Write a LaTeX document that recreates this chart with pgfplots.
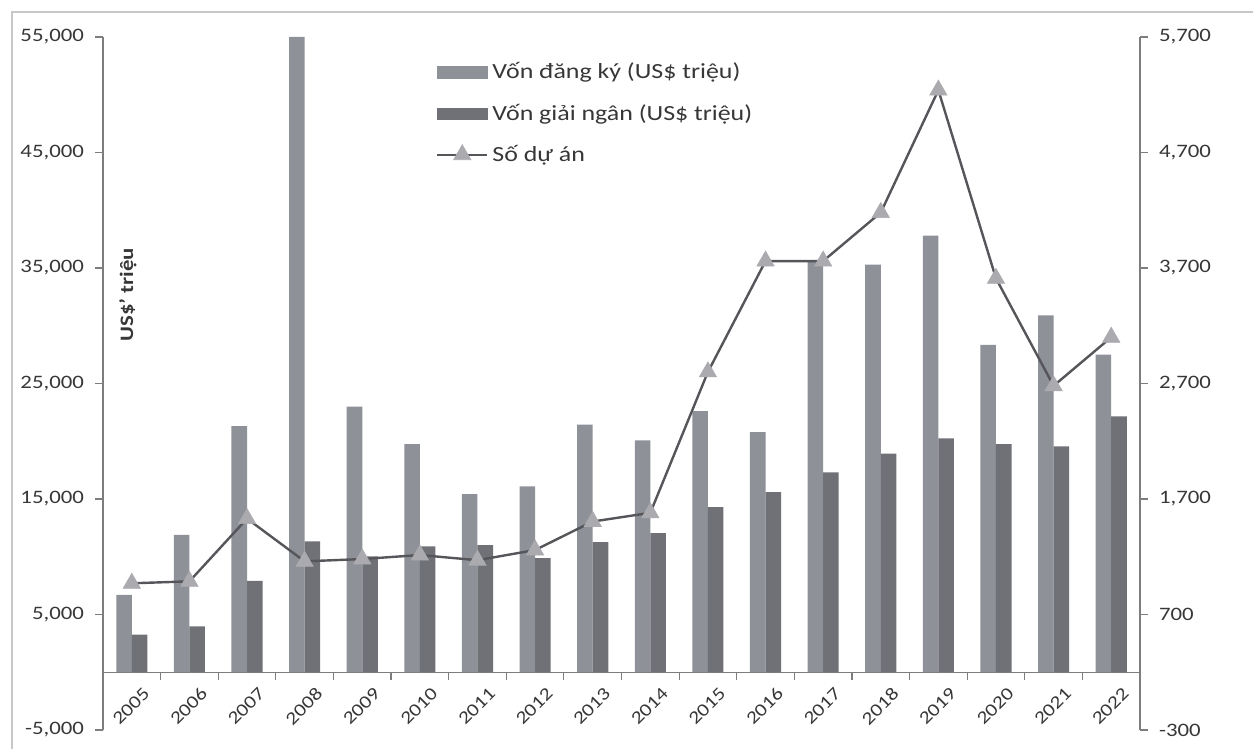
\documentclass[border=0pt]{standalone}
\usepackage{fontspec}
\setmainfont{Carlito}[FakeStretch=1.2]
\usepackage{pgfplots}
\pgfplotsset{compat=1.18}
\definecolor{reg}{RGB}{142,145,152}
\definecolor{dis}{RGB}{112,113,118}
\definecolor{ln}{RGB}{85,85,90}
\definecolor{mk}{RGB}{170,170,175}
\definecolor{axc}{RGB}{125,125,125}
\definecolor{txt}{RGB}{55,55,55}
\pgfplotsset{linelegend/.style={legend image code/.code={\draw[mark repeat=2,mark phase=2,##1] plot coordinates {(0pt,0pt) (12.5pt,0pt) (25pt,0pt)};}}}
\begin{document}
\begin{tikzpicture}
\path[use as bounding box] (0pt,0pt) rectangle (626.5pt,374.5pt);
\draw[black!22, line width=0.8pt] (6pt,0pt) -- (6pt,368.5pt) -- (626.5pt,368.5pt);
\begin{axis}[
  at={(51.5pt,9.5pt)}, anchor=south west,
  scale only axis, width=518.5pt, height=346.5pt,
  xmin=-0.5, xmax=17.5, ymin=-5000, ymax=55000,
  axis x line=middle, axis y line=left,
  axis line style={draw=axc, line width=0.6pt, -},
  hide obscured x ticks=false,
  xtick={-0.5,0.5,...,17.5},
  xticklabels={2005,2006,2007,2008,2009,2010,2011,2012,2013,2014,2015,2016,2017,2018,2019,2020,2021,2022,{}},
  ytick={-5000,5000,15000,25000,35000,45000,55000},
  scaled y ticks=false,
  /pgf/number format/1000 sep={,},
  /pgf/number format/assume math mode=true,
  tick align=outside, major tick length=4pt,
  tick style={draw=axc, line width=0.6pt},
  ticklabel style={font=\fontsize{9.5}{11}\selectfont, text=txt},
  yticklabel style={xshift=-2pt},
  xticklabel style={xshift=14pt, yshift=-13pt, rotate=45, anchor=center, font=\fontsize{9}{10}\selectfont},
]
\addplot[ybar, bar width=0.27, bar shift=-0.135, fill=reg, draw=none] coordinates {
(0,6700) (1,11900) (2,21300) (3,55000) (4,23000) (5,19750) (6,15430) (7,16100) (8,21430)
(9,20070) (10,22600) (11,20800) (12,35500) (13,35300) (14,37800) (15,28350) (16,30900) (17,27500)};
\addplot[ybar, bar width=0.27, bar shift=0.135, fill=dis, draw=none] coordinates {
(0,3250) (1,3970) (2,7920) (3,11330) (4,10030) (5,10890) (6,11000) (7,9890) (8,11270)
(9,12050) (10,14300) (11,15600) (12,17300) (13,18920) (14,20240) (15,19750) (16,19550) (17,22150)};
\node[rotate=90, font=\bfseries\fontsize{9.5}{11}\selectfont, text=txt] at (rel axis cs:0.024,0.628) {US\$' triệu};
\end{axis}
\begin{axis}[
  at={(51.5pt,9.5pt)}, anchor=south west,
  scale only axis, width=518.5pt, height=346.5pt,
  xmin=-0.5, xmax=17.5, ymin=-300, ymax=5700,
  axis x line=none, axis y line*=right,
  axis line style={draw=axc, line width=0.6pt, -},
  ytick={-300,700,1700,2700,3700,4700,5700},
  scaled y ticks=false,
  /pgf/number format/1000 sep={,},
  /pgf/number format/assume math mode=true,
  tick align=outside, major tick length=4pt,
  tick style={draw=axc, line width=0.6pt},
  ticklabel style={font=\fontsize{9.5}{11}\selectfont, text=txt},
  yticklabel style={xshift=2pt},
  legend style={at={(rel axis cs:0.315,0.975)}, anchor=north west, draw=none, fill=none,
    font=\fontsize{10.8}{12}\selectfont, text=txt, row sep=7pt,
    /tikz/every even column/.append style={column sep=2pt}},
  legend cell align=left,
]
\addlegendimage{legend image code/.code={\fill[reg] (0pt,-2.8pt) rectangle (25pt,2.8pt);}}
\addlegendentry{Vốn đăng ký (US\$ triệu)}
\addlegendimage{legend image code/.code={\fill[dis] (0pt,-2.8pt) rectangle (25pt,2.8pt);}}
\addlegendentry{Vốn giải ngân (US\$ triệu)}
\addplot[color=ln, line width=1.2pt, mark=triangle*, mark size=5pt,
  mark options={fill=mk, draw=mk, line width=0.3pt}, linelegend]
coordinates {
(0,970) (1,987) (2,1530) (3,1160) (4,1180) (5,1215) (6,1170) (7,1258) (8,1505)
(9,1580) (10,2800) (11,3760) (12,3760) (13,4180) (14,5240) (15,3610) (16,2680) (17,3100)};
\addlegendentry{Số dự án}
\node[rotate=-90, font=\bfseries\fontsize{10}{12}\selectfont, text=txt] at (rel axis cs:1.0723,0.541) {Số dự án};
\end{axis}
\end{tikzpicture}
\end{document}
